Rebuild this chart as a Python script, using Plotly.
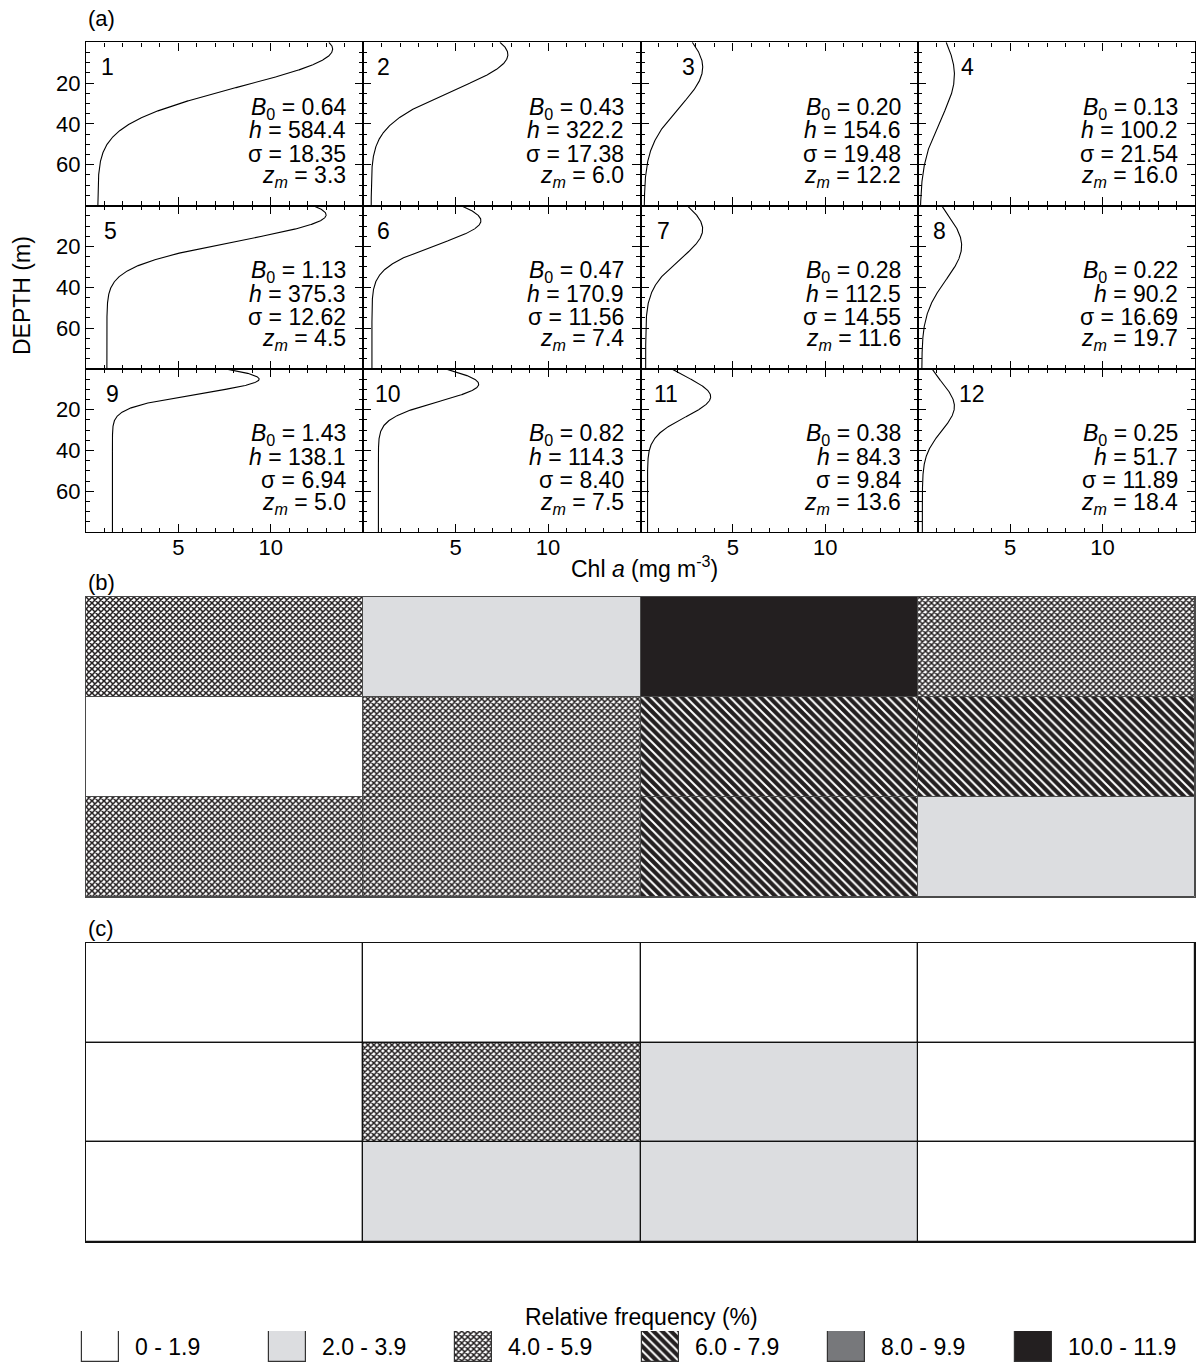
import numpy as np
import plotly.graph_objects as go

# ---- profile parameters, panels 1-12 ----
panel_ids = list(range(1, 13))
B0 = [0.64, 0.43, 0.20, 0.13, 1.13, 0.47, 0.28, 0.22, 1.43, 0.82, 0.38, 0.25]
h_vals = [584.4, 322.2, 154.6, 100.2, 375.3, 170.9, 112.5, 90.2, 138.1, 114.3, 84.3, 51.7]
sigma = [18.35, 17.38, 19.48, 21.54, 12.62, 11.56, 14.55, 16.69, 6.94, 8.40, 9.84, 11.89]
zm = [3.3, 6.0, 12.2, 16.0, 4.5, 7.4, 11.6, 19.7, 5.0, 7.5, 13.6, 18.4]

# ---- frequency classes of each cell (row by row, 4 columns) ----
freq_b = [[2, 1, 5, 2],
          [0, 2, 3, 3],
          [2, 2, 3, 1]]
freq_c = [[0, 0, 0, 0],
          [0, 2, 1, 0],
          [0, 1, 1, 0]]
class_labels = ["0 - 1.9", "2.0 - 3.9", "4.0 - 5.9", "6.0 - 7.9", "8.0 - 9.9", "10.0 - 11.9"]

x_ticks = [5, 10]
y_ticks = [20, 40, 60]

W, H = 1197, 1364
FONT = "Liberation Sans, Arial, Helvetica, sans-serif"
INK = "#231f20"

# where each panel number sits (Chl a units, depth m), clear of its curve
num_x = [1.14, 1.07, 2.58, 2.67, 1.30, 1.07, 1.22, 1.20, 1.41, 1.34, 1.38, 2.94]
num_depth = 12.2
# depths of the four parameter lines
param_depths = [32.3, 43.2, 54.6, 65.8]

def fx(p):
    return p / W

def fy(p):
    return 1 - p / H

def profile(i, depth):
    return B0[i] + h_vals[i] / (sigma[i] * np.sqrt(2 * np.pi)) * np.exp(-(depth - zm[i]) ** 2 / (2 * sigma[i] ** 2))

# fill style for each class
def class_marker(k, line_color, line_width):
    line = dict(color=line_color, width=line_width)
    if k == 0:
        return dict(color="white", line=line)
    if k == 1:
        return dict(color="#dcdde0", line=line)
    if k == 2:
        return dict(color="white", line=line,
                    pattern=dict(shape="x", size=4.24, solidity=0.6,
                                 fgcolor=INK, bgcolor="white", fillmode="replace"))
    if k == 3:
        return dict(color=INK, line=line,
                    pattern=dict(shape="\\", size=6.2, solidity=0.32,
                                 fgcolor="white", bgcolor=INK, fillmode="replace"))
    if k == 4:
        return dict(color="#77787b", line=line)
    return dict(color=INK, line=line)

fig = go.Figure()
layout = {}

# ---- (a) twelve profile panels ----
left0, top0 = 86.0, 42.3
colw = (1195.0 - 86.0) / 4
rowh = 163.3
z = np.linspace(0, 80, 801)

axis_common = dict(showline=True, linecolor="black", linewidth=1.4, mirror="ticks",
                   ticks="inside", ticklen=8, tickwidth=1.2, tickcolor="black",
                   showgrid=False, zeroline=False,
                   tickfont=dict(family=FONT, size=22, color="black"))

annotations = []
for i, pid in enumerate(panel_ids):
    r, c = divmod(i, 4)
    k = i + 1
    ydom = [fy(top0 + (r + 1) * rowh), fy(top0 + r * rowh)]
    layout[f"xaxis{k}"] = dict(axis_common, domain=[fx(left0 + c * colw), fx(left0 + (c + 1) * colw)],
                               anchor=f"y{k}", range=[0, 15], tickmode="array", tickvals=x_ticks,
                               showticklabels=(r == 2), ticklabelstandoff=-5,
                               minor=dict(tickmode="linear", tick0=0, dtick=1, ticks="inside",
                                          ticklen=4, tickwidth=1, tickcolor="black"))
    layout[f"yaxis{k}"] = dict(axis_common, domain=ydom,
                               anchor=f"x{k}", range=[80, 0], tickmode="array", tickvals=y_ticks,
                               showticklabels=(c == 0), ticklabelstandoff=0,
                               minor=dict(tickmode="linear", tick0=0, dtick=5, ticks="inside",
                                          ticklen=4, tickwidth=1, tickcolor="black"))
    if c == 0:
        # major depth ticks also reach outward on the outer left edge
        layout[f"yaxis{k + 20}"] = dict(overlaying=f"y{k}", anchor=f"x{k}", side="left",
                                        range=[80, 0], tickmode="array", tickvals=y_ticks,
                                        ticks="outside", ticklen=6, tickwidth=1.2, tickcolor="black",
                                        showline=False, showgrid=False, zeroline=False,
                                        showticklabels=False, fixedrange=True)

    fig.add_trace(go.Scatter(x=profile(i, z), y=z, mode="lines", line=dict(color="black", width=1.1),
                             xaxis=f"x{k}", yaxis=f"y{k}", showlegend=False, hoverinfo="skip"))

    annotations.append(dict(x=num_x[i], y=num_depth, xref=f"x{k}", yref=f"y{k}", text=str(pid),
                            showarrow=False, xanchor="center", yanchor="middle",
                            font=dict(family=FONT, size=23, color="black")))

    lines = [f"<i>B</i><sub>0</sub> = {B0[i]:.2f}",
             f"<i>h</i> = {h_vals[i]:.1f}",
             f"σ = {sigma[i]:.2f}",
             f"<i>z<sub>m</sub></i> = {zm[i]:.1f}"]
    for t, d in zip(lines, param_depths):
        annotations.append(dict(x=14.2, y=d, xref=f"x{k}", yref=f"y{k}", text=t,
                                showarrow=False, xanchor="right", yanchor="middle",
                                font=dict(family=FONT, size=23, color="black")))

# ---- (b) and (c) cell grids ----
def add_grid(cells, axis_no, top, bottom, line_color, line_width):
    frame = dict(visible=True, showline=True, mirror=True, linecolor=line_color, linewidth=line_width,
                 showticklabels=False, ticks="", showgrid=False, zeroline=False, fixedrange=True)
    layout[f"xaxis{axis_no}"] = dict(frame, domain=[fx(86), fx(1195)], anchor=f"y{axis_no}", range=[0, 4])
    layout[f"yaxis{axis_no}"] = dict(frame, domain=[fy(bottom), fy(top)], anchor=f"x{axis_no}", range=[3, 0])
    for cls in range(len(class_labels)):
        xs, bases = [], []
        for r, row in enumerate(cells):
            for c, v in enumerate(row):
                if v == cls:
                    xs.append(c + 0.5)
                    bases.append(r)
        if not xs:
            continue
        fig.add_trace(go.Bar(x=xs, y=[1] * len(xs), base=bases, width=1,
                             marker=class_marker(cls, line_color, line_width),
                             xaxis=f"x{axis_no}", yaxis=f"y{axis_no}",
                             showlegend=False, hoverinfo="skip"))

add_grid(freq_b, 13, 597, 897, "#4a4a4a", 1)
add_grid(freq_c, 14, 943, 1242, "#111111", 1.2)

# ---- class key ----
layout["xaxis15"] = dict(domain=[0, 1], anchor="y15", range=[0, W], visible=False, fixedrange=True)
layout["yaxis15"] = dict(domain=[fy(1362), fy(1331)], anchor="x15", range=[0, 1], visible=False,
                         fixedrange=True)
key_x0, key_step, key_w = 82, 186.5, 37
for cls, lab in enumerate(class_labels):
    xc = key_x0 + cls * key_step + key_w / 2
    fig.add_trace(go.Bar(x=[xc], y=[1], base=[0], width=key_w,
                         marker=class_marker(cls, "#333333", 1.2),
                         xaxis="x15", yaxis="y15", showlegend=False, hoverinfo="skip"))
    annotations.append(dict(x=xc + key_w / 2 + 14, y=0.5, xref="x15", yref="y15", text=lab,
                            showarrow=False, xanchor="left", yanchor="middle",
                            font=dict(family=FONT, size=23, color="black")))

# ---- titles and labels ----
def txt(x, y, s, size=22, angle=0, xanchor="center"):
    annotations.append(dict(x=fx(x), y=fy(y), xref="paper", yref="paper", text=s,
                            showarrow=False, xanchor=xanchor, yanchor="middle", textangle=angle,
                            font=dict(family=FONT, size=size, color="black")))

txt(86, 19, "(a)", xanchor="left")
txt(86, 582, "(b)", xanchor="left")
txt(86, 929, "(c)", xanchor="left")
txt(22, 296, "DEPTH (m)", size=23, angle=-90)
txt(644, 567, "Chl <i>a</i> (mg m<sup>-3</sup>)", size=23)
txt(641, 1317, "Relative frequency (%)", size=23)

fig.update_layout(**layout)
fig.update_layout(width=W, height=H, margin=dict(l=0, r=0, t=0, b=0),
                  paper_bgcolor="white", plot_bgcolor="white", barmode="overlay",
                  bargap=0, annotations=annotations, showlegend=False)

fig.write_html("out.html")
